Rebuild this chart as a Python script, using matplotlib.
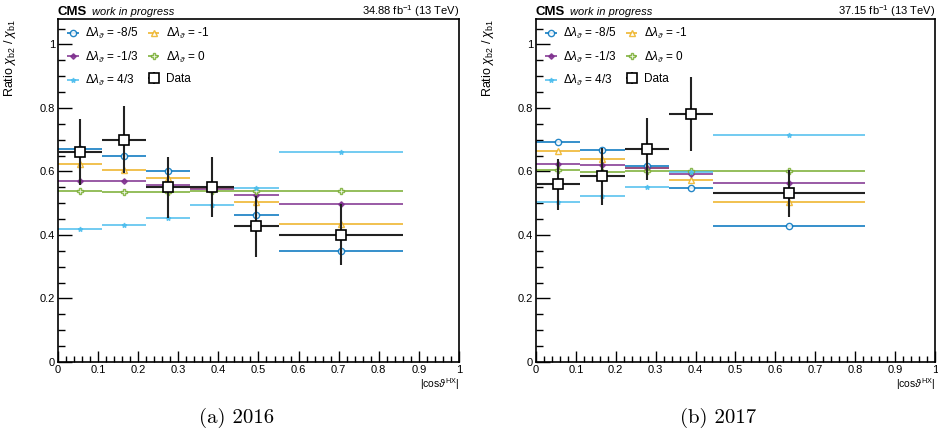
import numpy as np
import matplotlib
matplotlib.use('Agg')
import matplotlib.pyplot as plt
from matplotlib.ticker import MultipleLocator, FormatStrFormatter

plt.rcParams['font.family'] = ['Liberation Sans', 'DejaVu Sans']
plt.rcParams['mathtext.fontset'] = 'custom'
plt.rcParams['mathtext.rm'] = 'Liberation Sans'
plt.rcParams['mathtext.it'] = 'Liberation Sans:italic'

# bin edges in |cos theta HX|
edges_2016 = [0.0, 0.11, 0.22, 0.33, 0.44, 0.55, 0.86]
edges_2017 = [0.0, 0.111, 0.222, 0.333, 0.444, 0.825]

# data ratio and errors
data_2016 = [0.661, 0.700, 0.550, 0.551, 0.427, 0.401]
err_2016 = [0.105, 0.105, 0.097, 0.093, 0.095, 0.095]
data_2017 = [0.559, 0.585, 0.671, 0.780, 0.531]
err_2017 = [0.081, 0.090, 0.097, 0.117, 0.075]

# model predictions for each delta lambda
labels = ['-8/5', '-1', '-1/3', '0', '4/3']
models_2016 = {
    '-8/5': [0.671, 0.649, 0.600, 0.548, 0.464, 0.348],
    '-1':   [0.622, 0.605, 0.578, 0.548, 0.503, 0.436],
    '-1/3': [0.570, 0.569, 0.556, 0.545, 0.527, 0.497],
    '0':    [0.540, 0.535, 0.536, 0.539, 0.539, 0.539],
    '4/3':  [0.419, 0.430, 0.455, 0.495, 0.548, 0.661],
}
models_2017 = {
    '-8/5': [0.694, 0.666, 0.617, 0.549, 0.429],
    '-1':   [0.665, 0.639, 0.610, 0.572, 0.505],
    '-1/3': [0.624, 0.619, 0.612, 0.593, 0.565],
    '0':    [0.605, 0.598, 0.600, 0.600, 0.603],
    '4/3':  [0.504, 0.523, 0.550, 0.598, 0.714],
}

cores = {'-8/5': '#0072BD', '-1': '#EDB120', '-1/3': '#7E2F8E',
         '0': '#77AC30', '4/3': '#4DBEEE'}
marcadores = {'-8/5': 'o', '-1': '^', '-1/3': 'D', '0': 'P', '4/3': '*'}
tamanhos = {'-8/5': 4.5, '-1': 4.5, '-1/3': 2.8, '0': 4.5, '4/3': 3.5}
abertos = {'-8/5': True, '-1': True, '-1/3': False, '0': True, '4/3': False}


def desenhar(ax, edges, dados, erros, modelos, lumi):
    edges = np.array(edges)
    centros = 0.5 * (edges[1:] + edges[:-1])
    meia = 0.5 * (edges[1:] - edges[:-1])
    handles = {}
    for lab in labels:
        c = cores[lab]
        h = ax.errorbar(centros, modelos[lab], xerr=meia, fmt=marcadores[lab],
                        color=c, ecolor=c, elinewidth=1.3, markersize=tamanhos[lab],
                        mfc='white' if abertos[lab] else c, mec=c, mew=1.0,
                        alpha=0.85, capsize=0,
                        label=r'$\Delta\lambda_{\vartheta}$ = ' + lab)
        handles[lab] = h
    hd = ax.errorbar(centros, dados, xerr=meia, yerr=erros, fmt='s', color='black',
                     ecolor='#222222', elinewidth=1.5, markersize=7.5, mfc='white',
                     mec='black', mew=1.2, capsize=0, label='Data', zorder=5)
    ordem = [handles['-8/5'], handles['-1/3'], handles['4/3'],
             handles['-1'], handles['0'], hd]
    ax.legend(handles=ordem, ncol=2, loc='upper left', frameon=False, fontsize=8.5,
              handlelength=1.3, handletextpad=0.4, columnspacing=0.6,
              labelspacing=0.7, borderaxespad=0.2, bbox_to_anchor=(0.0, 1.0))

    ax.set_xlim(0, 1)
    ax.set_ylim(0, 1.08)
    ax.xaxis.set_major_locator(MultipleLocator(0.1))
    ax.xaxis.set_minor_locator(MultipleLocator(0.02))
    ax.yaxis.set_major_locator(MultipleLocator(0.2))
    ax.yaxis.set_minor_locator(MultipleLocator(0.05))
    ax.xaxis.set_major_formatter(FormatStrFormatter('%g'))
    ax.yaxis.set_major_formatter(FormatStrFormatter('%g'))
    ax.tick_params(which='both', direction='in', top=False, right=False,
                   labelsize=8, width=1.0, pad=2)
    ax.tick_params(axis='y', which='major', length=10)
    ax.tick_params(axis='y', which='minor', length=5)
    ax.tick_params(axis='x', which='major', length=8)
    ax.tick_params(axis='x', which='minor', length=4)
    for s in ax.spines.values():
        s.set_linewidth(1.2)

    ax.set_ylabel(r'Ratio $\chi_{\mathrm{b2}}$ / $\chi_{\mathrm{b1}}$', fontsize=9,
                  loc='top')
    ax.yaxis.set_label_coords(-0.1, 1.0)
    ax.set_xlabel(r'|cos$\vartheta^{\mathrm{HX}}$|', fontsize=7.5, loc='right',
                  labelpad=1)

    ax.text(0.0, 1.012, 'CMS', transform=ax.transAxes, fontsize=9.5,
            fontweight='bold', ha='left', va='baseline')
    ax.text(0.085, 1.012, 'work in progress', transform=ax.transAxes, fontsize=8,
            style='italic', ha='left', va='baseline')
    ax.text(1.0, 1.012, lumi + r' fb$^{-1}$ (13 TeV)', transform=ax.transAxes,
            fontsize=8, ha='right', va='baseline')


fig = plt.figure(figsize=(9.38, 4.43), dpi=100)
ax1 = fig.add_axes([0.0618, 0.1828, 0.4275, 0.7743])
ax2 = fig.add_axes([0.5714, 0.1828, 0.4254, 0.7743])

desenhar(ax1, edges_2016, data_2016, err_2016, models_2016, '34.88')
desenhar(ax2, edges_2017, data_2017, err_2017, models_2017, '37.15')

fig.text(0.2527, 0.045, '(a) 2016', family='cmr10', fontsize=15, ha='center')
fig.text(0.7655, 0.045, '(b) 2017', family='cmr10', fontsize=15, ha='center')

fig.savefig('out.png', dpi=100)
plt.close(fig)
